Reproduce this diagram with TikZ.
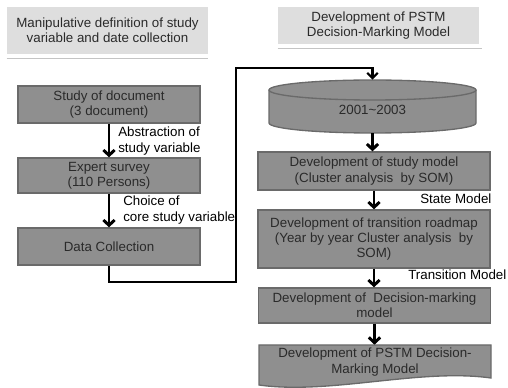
\documentclass[tikz,border=0pt]{standalone}
\usepackage{fontspec}
\setmainfont{Liberation Sans}
\usetikzlibrary{arrows.meta}
\definecolor{boxgray}{HTML}{8F8F8F}
\definecolor{boxline}{HTML}{6A6A6A}
\definecolor{headgray}{HTML}{DEDEDE}
\definecolor{headline}{HTML}{C4C4C4}
\definecolor{textgray}{HTML}{2A2A2A}

\begin{document}
\begin{tikzpicture}[x=0.75pt, y=-0.75pt, font=\fontsize{10}{11.5}\selectfont,
        head_style/.style={fill=headgray, text=textgray, align=center, inner sep=0pt},
        step_style/.style={draw=boxline, line width=1pt, fill=boxgray, text=textgray, align=center, inner sep=0pt},
        left_style/.style={step_style, minimum width=136.5pt},
        right_style/.style={step_style, minimum width=174pt},
        arrow_style/.style={draw=black, line width=2.2pt, -{Straight Barb[length=4pt,width=8.5pt]}},
        link_style/.style={draw=black, line width=1.6pt, -{Straight Barb[length=4pt,width=8pt]}},
        label_style/.style={anchor=west, align=left, inner sep=0pt, text=black}]

        \useasboundingbox (0,0) rectangle (508,388);

        % headers
        \node [head_style, minimum width=150.75pt, minimum height=35.25pt] (h1) at (107.5,30.5) {Manipulative definition of study\\variable and date collection};
        \draw [headline, line width=0.7pt] ([yshift=-3pt]h1.south west) -- ([yshift=-3pt]h1.south east);

        \node [head_style, minimum width=150.75pt, minimum height=27.75pt] (h2) at (378.5,25.5) {Development of PSTM\\Decision-Marking Model};
        \draw [headline, line width=0.7pt] ([yshift=-3pt]h2.south west) -- ([yshift=-3pt,xshift=2pt]h2.south east);

        % left column
        \node [left_style, minimum height=27.75pt] (doc) at (109,104.5) {Study of document\\(3 document)};

        \node [left_style, minimum height=26.25pt] (exp) at (109,175.5) {Expert survey\\(110 Persons)};

        \node [left_style, minimum height=27.75pt] (data) at (109,246.5) {Data Collection};

        \draw [arrow_style] (doc) -- (exp);
        \node [label_style] (l1) at (118,141) {Abstraction of\\study variable};

        \draw [arrow_style] (exp) -- (data);
        \node [label_style] (l2) at (123,210) {Choice of\\core study variable};

        % database
        \fill [boxgray] (269,90) -- (269,123) arc [start angle=180, end angle=0, x radius=103.5, y radius=10] -- (476,90) -- cycle;
        \draw [boxline, line width=1pt] (269,90) -- (269,123) arc [start angle=180, end angle=0, x radius=103.5, y radius=10] -- (476,90);
        \draw [boxline, line width=1pt, fill=boxgray] (372.5,90) ellipse [x radius=103.5, y radius=10];
        \node [minimum width=155.25pt, minimum height=39.75pt, inner sep=0pt] (cyl) at (372.5,106.5) {};
        \node [text=textgray] (yr) at (372.5,110) {2001\textasciitilde 2003};

        \coordinate (c1) at (236,282);
        \coordinate (c2) at (236,68);
        \draw [link_style] (data.south) |- (c1) -- (c2) -| (cyl.north);

        % right column
        \node [right_style, minimum height=28.5pt] (som) at (374,171) {Development of study model\\(Cluster analysis\ \ by SOM)};

        \node [right_style, minimum height=43.5pt] (road) at (374,239) {Development of transition roadmap\\(Year by year Cluster analysis\ \ by\\SOM)};

        \node [right_style, minimum height=26.25pt] (dec) at (374.5,305.5) {Development of\ \ Decision-marking\\model};

        \fill [boxgray] (259,345) -- (491,345) -- (491,378) .. controls (420,368) and (330,395) .. (259,385) -- cycle;
        \draw [boxline, line width=1pt] (259,345) -- (491,345) -- (491,378) .. controls (420,368) and (330,395) .. (259,385) -- cycle;
        \node [minimum width=174pt, minimum height=25.5pt, inner sep=0pt, align=center, text=textgray] (fin) at (375,362) {Development of PSTM Decision-\\Marking Model};

        \draw [arrow_style] (cyl.south) -- (cyl.south |- som.north);

        \draw [arrow_style] (som) -- (road);
        \node [label_style] (sm) at (420,199) {State Model};

        \draw [arrow_style] (road) -- (road.south |- dec.north);
        \node [label_style] (tm) at (408,275) {Transition Model};

        \draw [arrow_style] (dec) -- (dec.south |- fin.north);

        \end{tikzpicture}
\end{document}
